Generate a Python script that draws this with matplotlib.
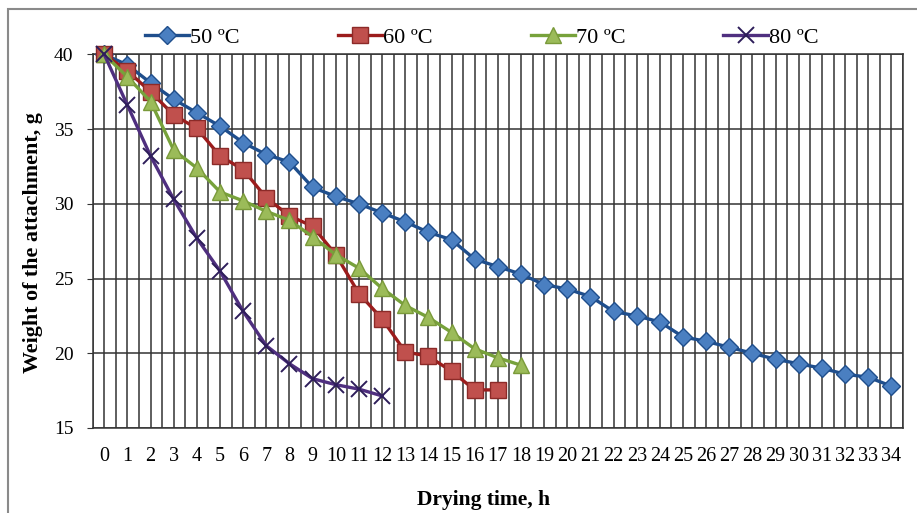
import matplotlib.pyplot as plt
import numpy as np
from matplotlib.patches import Rectangle

plt.rcParams['font.family'] = ['Liberation Serif', 'DejaVu Serif']

# drying data
hours = list(range(35))
w50 = [40, 39.3, 38.1, 37.0, 36.1, 35.2, 34.1, 33.3, 32.8, 31.1, 30.5, 30.0, 29.4,
       28.8, 28.1, 27.6, 26.3, 25.8, 25.3, 24.6, 24.3, 23.8, 22.8, 22.5, 22.1, 21.1,
       20.8, 20.4, 20.0, 19.6, 19.3, 19.0, 18.6, 18.4, 17.8]
w60 = [40, 38.9, 37.5, 35.95, 35.05, 33.2, 32.3, 30.4, 29.2, 28.5, 26.6, 24.0, 22.3,
       20.1, 19.8, 18.8, 17.55, 17.55]
w70 = [40, 38.5, 36.85, 33.6, 32.4, 30.8, 30.2, 29.5, 28.9, 27.8, 26.6, 25.7, 24.35,
       23.2, 22.4, 21.4, 20.3, 19.7, 19.2]
w80 = [40, 36.6, 33.2, 30.3, 27.7, 25.5, 22.8, 20.5, 19.3, 18.3, 17.9, 17.6, 17.15]
labels = ['50 \u00baC', '60 \u00baC', '70 \u00baC', '80 \u00baC']

fig = plt.figure(figsize=(9.17, 5.13), dpi=100)
ax = fig.add_axes([0.1011, 0.1657, 0.8836, 0.7281])

# grey chart frame, cut off on the right and bottom like the source
fig.patches.append(Rectangle((8/917, -0.1), 1.2, 1 - 9/513 + 0.1, transform=fig.transFigure,
                             fill=False, edgecolor='#8a8a8a', linewidth=1.5))

ax.plot(hours[:len(w50)], w50, color='#1F4E8C', lw=2.4, marker='D', ms=9.5,
        mfc='#4A7FC1', mec='#1F4E8C', mew=1, clip_on=False, zorder=3, label=labels[0])
ax.plot(hours[:len(w60)], w60, color='#9B1C1C', lw=2.4, marker='s', ms=12,
        mfc='#C0504D', mec='#8C2A28', mew=1, clip_on=False, zorder=4, label=labels[1])
ax.plot(hours[:len(w70)], w70, color='#77A23B', lw=2.4, marker='^', ms=11,
        mfc='#9BBB59', mec='#7A9A3A', mew=1, clip_on=False, zorder=5, label=labels[2])
ax.plot(hours[:len(w80)], w80, color='#4F2F7F', lw=2.4, marker='x', ms=11,
        mec='#2E1E5A', mew=1.4, clip_on=False, zorder=6, label=labels[3])

ax.set_xlim(-0.5, 34.5)
ax.set_ylim(15, 40)
ax.set_xticks(hours)
ax.set_xticks(np.arange(-0.5, 35, 1), minor=True)
ax.set_yticks([15, 20, 25, 30, 35, 40])
ax.grid(True, which='both', axis='x', color='#333333', lw=1.1, zorder=1)
ax.grid(True, which='major', axis='y', color='#333333', lw=1.1, zorder=1)
ax.set_axisbelow(True)
for s in ax.spines.values():
    s.set_color('#333333')
    s.set_linewidth(1.1)
ax.tick_params(axis='x', which='both', length=0, pad=14, labelsize=14.5)
ax.tick_params(axis='y', length=4, direction='out', pad=10, labelsize=14, color='#333333')

fig.text(33/917, 1 - 243/513, 'Weight of the attachment, g',
         rotation=90, ha='center', va='center', fontsize=15.8, fontweight='bold')
fig.text(484/917, 1 - 500/513, 'Drying time, h', ha='center', va='center',
         fontsize=15.5, fontweight='bold')

ax.legend(loc='center', bbox_to_anchor=(0.48, 1 + 17/374), ncol=4, frameon=False,
          fontsize=16, handlelength=2.0, handletextpad=0.05, columnspacing=4.4,
          borderaxespad=0)

fig.savefig('out.png', dpi=100)
